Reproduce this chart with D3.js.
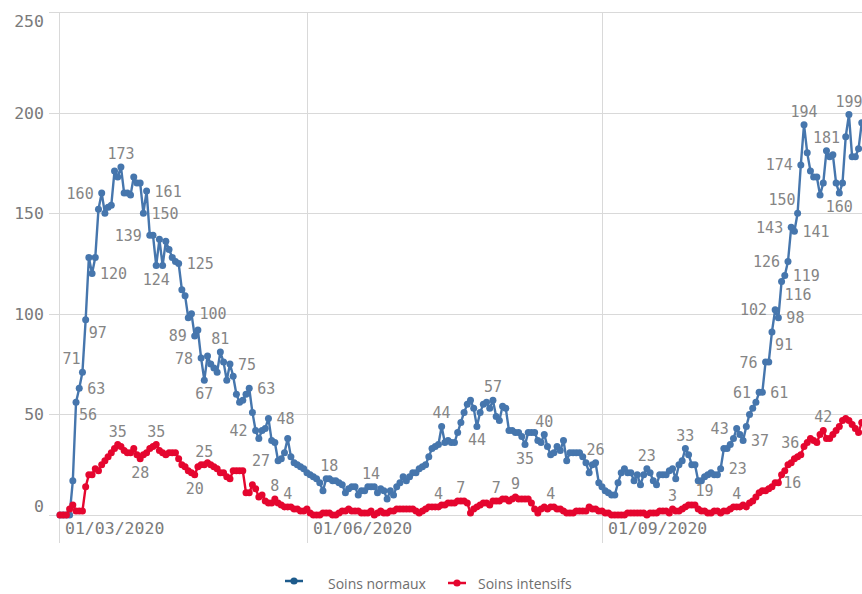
<!DOCTYPE html>
<html>
<head>
<meta charset="utf-8">
<script src="https://cdn.jsdelivr.net/npm/d3@7"></script>
<style>
  body { margin: 0; background: #fff; }
  svg { display: block; }
</style>
</head>
<body>
<div id="chart"></div>
<script>
// daily values from 16/03/2020
const startDate = Date.UTC(2020, 2, 16);

const soinsNormaux = [
  0, 0, 0, 0, 17, 56, 63, 71, 97, 128,
  120, 128, 152, 160, 150, 153, 154, 171, 168, 173,
  160, 160, 159, 168, 165, 165, 150, 161, 139, 139,
  124, 137, 124, 136, 132, 128, 126, 125, 112, 109,
  98, 100, 89, 92, 78, 67, 79, 75, 73, 71,
  81, 76, 67, 75, 69, 60, 56, 57, 60, 63,
  51, 42, 38, 42, 43, 48, 37, 36, 27, 28,
  31, 38, 29, 26, 25, 24, 23, 21, 20, 19,
  18, 16, 12, 18, 18, 17, 17, 16, 15, 11,
  13, 14, 14, 10, 12, 12, 14, 14, 14, 11,
  13, 12, 8, 12, 10, 14, 16, 19, 17, 19,
  21, 21, 23, 24, 25, 29, 33, 34, 35, 44,
  36, 37, 36, 36, 41, 46, 51, 55, 57, 53,
  44, 51, 55, 56, 53, 57, 49, 47, 54, 53,
  42, 42, 41, 41, 39, 35, 41, 41, 41, 37,
  36, 40, 34, 30, 31, 34, 32, 37, 27, 31,
  31, 31, 31, 29, 26, 21, 25, 26, 16, 14,
  12, 11, 10, 10, 16, 21, 23, 21, 21, 17,
  20, 15, 20, 23, 21, 17, 15, 20, 20, 20,
  22, 23, 18, 25, 27, 33, 30, 25, 25, 17,
  17, 19, 20, 21, 20, 20, 23, 33, 33, 35,
  38, 43, 40, 37, 44, 50, 53, 56, 61, 61,
  76, 76, 91, 102, 98, 116, 119, 126, 143, 141,
  150, 174, 194, 180, 171, 168, 168, 159, 165, 181,
  178, 179, 165, 160, 165, 188, 199, 178, 178, 182,
  195
];

const soinsIntensifs = [
  0, 0, 0, 3, 5, 2, 2, 2, 14, 20,
  20, 23, 22, 25, 27, 29, 31, 33, 35, 34,
  32, 31, 31, 33, 30, 28, 30, 31, 33, 34,
  35, 32, 31, 30, 31, 31, 31, 28, 25, 24,
  22, 21, 20, 24, 25, 25, 26, 25, 24, 23,
  21, 21, 19, 18, 22, 22, 22, 22, 11, 11,
  15, 13, 9, 10, 7, 6, 6, 8, 6, 5,
  4, 4, 4, 3, 3, 2, 2, 3, 1, 0,
  0, 0, 1, 1, 1, 0, 0, 1, 2, 2,
  3, 2, 2, 2, 1, 1, 1, 2, 0, 1,
  2, 1, 1, 2, 2, 3, 3, 3, 3, 3,
  3, 2, 1, 2, 3, 4, 4, 4, 4, 5,
  5, 6, 6, 6, 7, 7, 7, 6, 1, 3,
  4, 5, 6, 6, 5, 7, 7, 7, 8, 8,
  7, 8, 9, 8, 8, 8, 8, 6, 3, 1,
  3, 4, 3, 4, 4, 3, 3, 2, 1, 1,
  1, 2, 2, 2, 2, 4, 3, 3, 2, 2,
  1, 1, 0, 0, 0, 0, 0, 1, 1, 1,
  1, 1, 1, 0, 1, 1, 1, 2, 2, 2,
  1, 3, 2, 2, 3, 4, 5, 5, 5, 3,
  2, 2, 1, 1, 2, 2, 1, 2, 2, 3,
  4, 4, 4, 5, 4, 6, 7, 9, 11, 12,
  12, 13, 14, 16, 16, 20, 22, 25, 26, 28,
  29, 30, 34, 36, 38, 37, 36, 40, 42, 38,
  38, 40, 42, 44, 47, 48, 47, 45, 43, 41,
  46
];

const yTicks = [0, 50, 100, 150, 200, 250];
const xTickLabels = ['01/03/2020', '01/06/2020', '01/09/2020'];
const xTickDates = [Date.UTC(2020, 2, 1), Date.UTC(2020, 5, 1), Date.UTC(2020, 8, 1)];

// which points carry a value label, and on which side
const normauxLabels = [
  [5, 'br'], [6, 'r'], [7, 'tl'], [8, 'br'], [10, 'r'], [13, 'l'], [19, 't'],
  [26, 'r'], [27, 'r'], [28, 'l'], [30, 'b'], [37, 'r'], [41, 'r'], [42, 'l'],
  [44, 'l'], [45, 'b'], [50, 't'], [53, 'r'], [59, 'r'], [61, 'l'], [65, 'r'],
  [68, 'l'], [84, 't'], [97, 't'], [119, 't'], [130, 'b'], [135, 't'],
  [145, 'b'], [151, 't'], [167, 't'], [183, 't'], [195, 't'], [201, 'b'],
  [206, 'r'], [211, 'l'], [213, 'r'], [218, 'l'], [219, 'r'], [220, 'l'],
  [222, 'br'], [223, 'l'], [224, 'r'], [225, 'br'], [226, 'r'], [227, 'l'],
  [228, 'l'], [229, 'r'], [230, 'tl'], [231, 'l'], [232, 't'], [239, 't'],
  [243, 'b'], [246, 't']
];
const intensifsLabels = [
  [18, 't'], [25, 'b'], [30, 't'], [42, 'b'], [45, 't'], [67, 't'], [71, 't'],
  [118, 't'], [125, 't'], [136, 't'], [142, 't'], [153, 't'], [191, 't'],
  [211, 't'], [223, 'r'], [233, 'l'], [238, 't']
];

const width = 862, height = 594;
const plotLeft = 59, plotTop = 12, plotBottom = 515;
const dayPx = 3.207;

const svg = d3.select('#chart').append('svg')
  .attr('width', width)
  .attr('height', height);

const x = d3.scaleUtc()
  .domain([startDate, d3.utcDay.offset(new Date(startDate), 254)])
  .range([plotLeft + 1, plotLeft + 1 + 254 * dayPx]);
const y = d3.scaleLinear()
  .domain([0, 250])
  .range([plotBottom, plotTop]);

const dateOf = i => d3.utcDay.offset(new Date(startDate), i);
const gridColor = '#d9d9d9';
const textColor = '#7a7a7a';
const mono = '"DejaVu Sans Mono", monospace';

// horizontal grid
svg.append('g')
  .selectAll('line')
  .data(yTicks)
  .enter()
  .append('line')
  .attr('x1', 49).attr('x2', width)
  .attr('y1', d => Math.round(y(d)) + 0.5)
  .attr('y2', d => Math.round(y(d)) + 0.5)
  .attr('stroke', gridColor);

// vertical grid: left edge plus the month ticks that fall inside the plot
const vLines = [plotLeft].concat(xTickDates.map(d => x(d)).filter(v => v > plotLeft + 5));
svg.append('g')
  .selectAll('line')
  .data(vLines)
  .enter()
  .append('line')
  .attr('x1', d => Math.round(d) + 0.5).attr('x2', d => Math.round(d) + 0.5)
  .attr('y1', plotTop).attr('y2', 543)
  .attr('stroke', gridColor);

// y labels: top one pushed down, bottom one pushed up, like the original
svg.append('g')
  .selectAll('text')
  .data(yTicks)
  .enter()
  .append('text')
  .attr('x', 44)
  .attr('y', d => d === 250 ? y(d) + 15 : d === 0 ? y(d) - 3.5 : y(d) + 6)
  .attr('text-anchor', 'end')
  .attr('font-family', mono)
  .attr('font-size', 16.5)
  .attr('fill', textColor)
  .text(d => d);

// x labels, left aligned after their tick (clamped to the plot edge)
svg.append('g')
  .selectAll('text')
  .data(xTickDates)
  .enter()
  .append('text')
  .attr('x', d => Math.max(x(d), plotLeft) + 6)
  .attr('y', 533.5)
  .attr('font-family', mono)
  .attr('font-size', 16.5)
  .attr('fill', textColor)
  .text((d, i) => xTickLabels[i]);

function drawSeries(values, color, labels) {
  const g = svg.append('g');
  const line = d3.line()
    .x((d, i) => x(dateOf(i)))
    .y(d => y(d));
  g.append('path')
    .datum(values)
    .attr('d', line)
    .attr('fill', 'none')
    .attr('stroke', color)
    .attr('stroke-width', 2.4)
    .attr('stroke-linejoin', 'round');
  g.selectAll('circle')
    .data(values)
    .enter()
    .append('circle')
    .attr('cx', (d, i) => x(dateOf(i)))
    .attr('cy', d => y(d))
    .attr('r', 3.5)
    .attr('fill', color);
  return labels.map(l => ({ i: l[0], side: l[1], v: values[l[0]] }));
}

const placement = {
  t: [0, -8, 'middle'],
  b: [0, 19, 'middle'],
  l: [-8, 5.5, 'end'],
  r: [8, 5.5, 'start'],
  br: [3, 18, 'start'],
  tl: [-2, -8, 'end']
};

const blueLabels = drawSeries(soinsNormaux, '#4676ad', normauxLabels);
const redLabels = drawSeries(soinsIntensifs, '#e5062f', intensifsLabels);

svg.append('g')
  .selectAll('text')
  .data(blueLabels.concat(redLabels))
  .enter()
  .append('text')
  .attr('x', d => x(dateOf(d.i)) + placement[d.side][0])
  .attr('y', d => y(d.v) + placement[d.side][1])
  .attr('text-anchor', d => placement[d.side][2])
  .attr('font-family', mono)
  .attr('font-size', 15)
  .attr('fill', '#858585')
  .text(d => d.v);

// legend
const legend = [
  { name: 'Soins normaux', color: '#1d5b8c', sx: 285, tx: 328, sy: 581 },
  { name: 'Soins intensifs', color: '#e5062f', sx: 448, tx: 478, sy: 583 }
];
const lg = svg.append('g');
legend.forEach(d => {
  lg.append('line')
    .attr('x1', d.sx).attr('x2', d.sx + 18)
    .attr('y1', d.sy).attr('y2', d.sy)
    .attr('stroke', d.color).attr('stroke-width', 2.5);
  lg.append('circle')
    .attr('cx', d.sx + 9).attr('cy', d.sy).attr('r', 3.6)
    .attr('fill', d.color);
  lg.append('text')
    .attr('x', d.tx).attr('y', 589)
    .attr('font-family', '"Open Sans", sans-serif')
    .attr('font-size', 14)
    .attr('fill', '#6e6e6e')
    .text(d.name);
});
</script>
</body>
</html>
